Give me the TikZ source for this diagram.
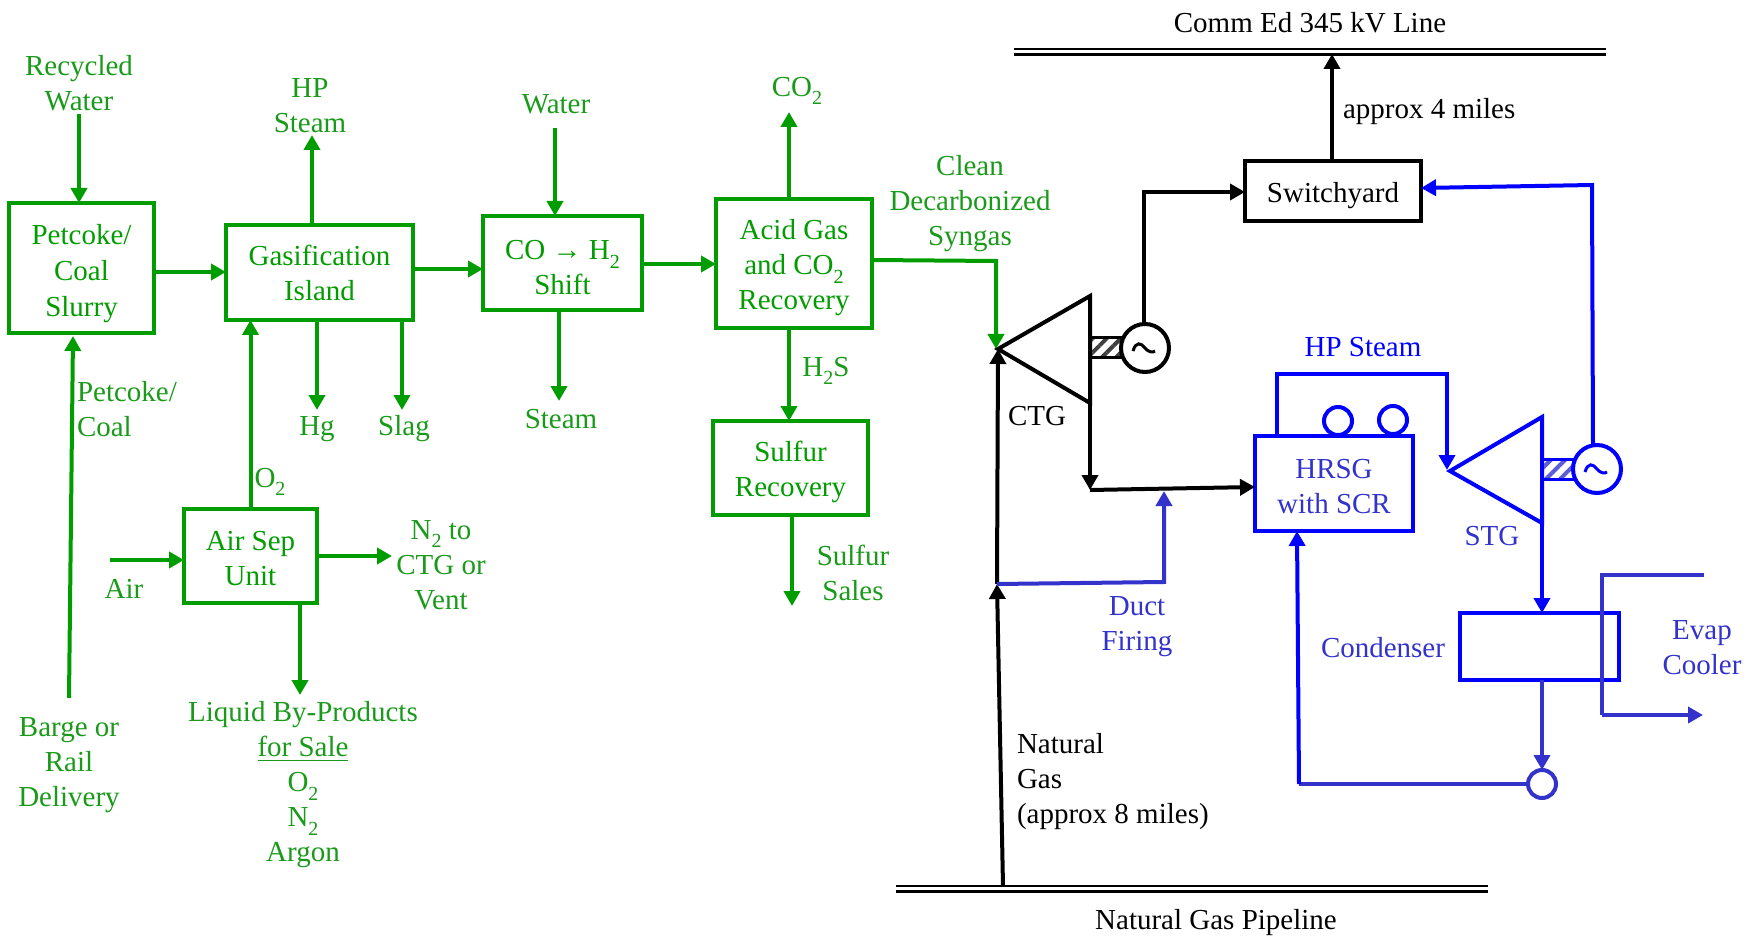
\documentclass[tikz,border=0pt]{standalone}
\usepackage{fontspec}
\setmainfont{Liberation Serif}
\usetikzlibrary{arrows.meta,patterns.meta}
\definecolor{grn}{HTML}{009C00}
\definecolor{grnt}{HTML}{1A9A1A}
\definecolor{blu}{HTML}{0000FF}
\definecolor{bld}{HTML}{3333CC}
\newcommand{\sbs}[1]{\raisebox{-0.3em}{\fontsize{10}{10}\selectfont #1}}
\newcommand{\nudge}[1]{\rule{0pt}{#1}}
\tikzset{
  every node/.style={inner sep=0pt,outer sep=0pt,font=\fontsize{14.5}{17.5}\selectfont,align=center},
  tip/.style={-{Triangle[length=7.5pt,width=8pt]}},
  gline/.style={draw=grn,line width=2pt},
  kline/.style={draw=black,line width=2pt},
  bline/.style={draw=blu,line width=2pt},
  dline/.style={draw=bld,line width=2pt},
  gbox/.style={draw=grn,line width=2pt,rectangle,text=grn},
  kbox/.style={draw=black,line width=2pt,rectangle,text=black},
  bbox/.style={draw=blu,line width=2pt,rectangle,text=bld},
  gtxt/.style={text=grnt},
  ktxt/.style={text=black},
  btxt/.style={text=blu},
  dtxt/.style={text=bld},
  genk/.style={circle,draw=black,line width=2pt,minimum size=24pt,fill=white},
  genb/.style={circle,draw=blu,line width=2pt,minimum size=24pt,fill=white},
  shaftk/.style={rectangle,draw=black,line width=1.5pt,minimum width=16pt,minimum height=10pt,
    pattern={Lines[angle=45,distance=5pt,line width=2pt]},pattern color=black!75},
  shaftb/.style={rectangle,draw=blu,line width=1.5pt,minimum width=16pt,minimum height=10pt,
    pattern={Lines[angle=45,distance=5pt,line width=2pt]},pattern color=bld!80},
  ball/.style={circle,line width=2pt,minimum size=14pt,fill=white}
}
\begin{document}
\begin{tikzpicture}[x=0.5pt,y=-0.5pt]
\useasboundingbox (0,0) rectangle (1757,936);

% process boxes
\node[gbox,minimum width=72.5pt,minimum height=65pt,font=\fontsize{14.5}{18}\selectfont] (pet) at (81.5,268) {\nudge{16pt}Petcoke/\\Coal\\Slurry};
\node[gbox,minimum width=93.5pt,minimum height=47.5pt] (gas) at (319.5,272.5) {Gasification\\Island};
\node[gbox,minimum width=79.5pt,minimum height=47pt] (shift) at (562.5,263) {\nudge{14.3pt}CO → H\sbs{2}\\Shift};
\node[gbox,minimum width=78pt,minimum height=64.5pt] (acid) at (794,263.5) {\nudge{14.4pt}Acid Gas\\and CO\sbs{2}\\Recovery};
\node[gbox,minimum width=77.5pt,minimum height=47pt] (sul) at (790.5,468) {\nudge{14.4pt}Sulfur\\Recovery};
\node[gbox,minimum width=66.5pt,minimum height=47pt] (asu) at (250.5,556) {\nudge{12.1pt}Air Sep\\Unit};
\node[kbox,minimum width=88pt,minimum height=30pt] (sw) at (1333,191) {\nudge{14.4pt}Switchyard};
\node[bbox,minimum width=79pt,minimum height=47.5pt] (hrsg) at (1334,483.5) {\nudge{12.9pt}HRSG\\with SCR};
\node[bbox,minimum width=79.5pt,minimum height=33.5pt] (cond) at (1539.5,646.5) {};

% free ends
\coordinate (rw) at (79,114);
\coordinate (hp) at (312,135);
\coordinate (wat) at (555,128);
\coordinate (co2) at (789,112);
\coordinate (sst) at (559,401);
\coordinate (hg) at (317,410);
\coordinate (slag) at (402,410);
\coordinate (h2s) at (789,421);
\coordinate (barge) at (69,698);
\coordinate (air) at (110,560);
\coordinate (n2) at (392,556);
\coordinate (liq) at (300,695);
\coordinate (ssale) at (792,606);
\coordinate (ctga) at (998,349);
\coordinate (ctgt) at (1090,296);
\coordinate (ctgb) at (1090,403);
\coordinate (stga) at (1450,471);
\coordinate (stgt) at (1542,417);
\coordinate (stgb) at (1542,523);
\coordinate (ctgx) at (1090,490);
\coordinate (ngj) at (997,584);
\coordinate (dj) at (1164,582);
\coordinate (dt) at (1164,491);
\coordinate (commL) at (1014,49);
\coordinate (commR) at (1606,49);
\coordinate (commLow) at (1332,54);
\coordinate (ngL) at (896,886);
\coordinate (ngR) at (1488,886);
\coordinate (ngs) at (1003,886);
\coordinate (ev1) at (1704,575);
\coordinate (ev2) at (1602,575);
\coordinate (ev3) at (1602,715);
\coordinate (ev4) at (1703,715);

% green flows
\draw[gline,tip] (rw) -- (rw |- pet.north);
\draw[gline,tip] (hp |- gas.north) -- (hp);
\draw[gline,tip] (pet.east |- 0,272) -- (gas.west |- 0,272);
\draw[gline,tip] (gas.east |- 0,269) -- (shift.west |- 0,269);
\draw[gline,tip] (shift.east |- 0,264) -- (acid.west |- 0,264);
\draw[gline,tip] (wat) -- (wat |- shift.north);
\draw[gline,tip] (co2 |- acid.north) -- (co2);
\draw[gline,tip] (h2s |- acid.south) -- (h2s);
\draw[gline,tip] (sst |- shift.south) -- (sst);
\draw[gline,tip] (hg |- gas.south) -- (hg);
\draw[gline,tip] (slag |- gas.south) -- (slag);
\draw[gline,tip] (barge) -- (73,336);
\draw[gline,tip] (asu.north) -- (asu.north |- gas.south);
\draw[gline,tip] (air) -- (air -| asu.west);
\draw[gline,tip] (n2 -| asu.east) -- (n2);
\draw[gline,tip] (liq |- asu.south) -- (liq);
\draw[gline,tip] (ssale |- sul.south) -- (ssale);
\draw[gline,tip] (acid.east |- 0,260) -- (996,261) -- (996,349);

% pipelines
\draw[kline,line width=1.3pt] (commL) -- (commR);
\draw[kline,line width=1.3pt] ([yshift=-2.7pt]commL) -- ([yshift=-2.7pt]commR);
\draw[kline,line width=1.3pt] (ngL) -- (ngR);
\draw[kline,line width=1.3pt] ([yshift=-2.7pt]ngL) -- ([yshift=-2.7pt]ngR);

% gas turbine
\draw[kline,line join=miter] (ctga) -- (ctgt) -- (ctgb) -- cycle;
\node[shaftk] (sk) at (1106,348) {};
\node[genk] (gk) at (1145,348) {};
\draw[black,line width=1.5pt] (1133,351) .. controls (1136,341) and (1141,343) .. (1145,348) .. controls (1148,352) and (1153,353) .. (1155,351);
\draw[kline,tip] (1144,324) -- (1144,192) -- (sw.west |- 0,192);
\draw[kline,tip] (sw.north -| commLow) -- (commLow);
\draw[kline,tip] (ctgb) -- (ctgx);
\draw[kline,tip] (ctgx) -- (hrsg.west |- 0,487);
\draw[kline,tip] (ngs) -- (ngj);
\draw[kline,tip] (ngj) -- (ctga);
\draw[dline,tip] (ngj) -- (dj) -- (dt);

% steam turbine
\draw[bline,line join=miter] (stga) -- (stgt) -- (stgb) -- cycle;
\node[shaftb] (sb) at (1558,469) {};
\node[genb] (gb) at (1597,469) {};
\draw[blu,line width=1.5pt] (1585,472) .. controls (1588,462) and (1593,464) .. (1597,469) .. controls (1600,473) and (1605,474) .. (1607,472);
\draw[bline,tip] (1593,445) -- (1592,185) -- (sw.east |- 0,188);
\draw[bline,tip] (1277,436) -- (1277,374) -- (1447,374) -- (1447,470);
\node[ball,draw=blu] (b1) at (1338,421) {};
\node[ball,draw=blu] (b2) at (1393,420) {};
\draw[bline] (hrsg.north west) -- (hrsg.north east);
\draw[bline,tip] (stgb) -- (stgb |- cond.north);
\node[ball,draw=bld] (pump) at (1542,784) {};
\draw[dline,tip] (pump.north |- cond.south) -- (pump.north);
\draw[dline] (pump.west) -- (1299,784);
\draw[bline,tip] (1299,784) -- (1297,531);
\draw[dline] (ev1) -- (ev2) -- (ev3);
\draw[dline,tip] (ev3) -- (ev4);

% labels
\node[gtxt] (t1) at (79,83) {Recycled\\Water};
\node[gtxt] (t2) at (310,106) {HP\\Steam};
\node[gtxt] (t3) at (556,104) {Water};
\node[gtxt] (t4) at (797,91) {CO\sbs{2}};
\node[gtxt] (t5) at (970,204) {Clean\\Decarbonized\\Syngas};
\node[gtxt] (t6) at (317,429) {Hg};
\node[gtxt] (t7) at (404,429) {Slag};
\node[gtxt] (t8) at (561,419) {Steam};
\node[gtxt] (t9) at (826,371) {H\sbs{2}S};
\node[gtxt,align=left,anchor=west] (t10) at (77,409) {Petcoke/\\Coal};
\node[gtxt] (t11) at (69,765) {Barge or\\Rail\\Delivery};
\node[gtxt] (t12) at (270,482) {O\sbs{2}};
\node[gtxt] (t13) at (124,589) {Air};
\node[gtxt] (t14) at (441,565) {N\sbs{2} to\\CTG or\\Vent};
\node[gtxt] (t15) at (303,785) {Liquid By-Products\\\underline{for Sale}\\O\sbs{2}\\N\sbs{2}\\Argon};
\node[gtxt] (t16) at (853,573) {Sulfur\\Sales};
\node[ktxt] (t17) at (1310,23) {Comm Ed 345 kV Line};
\node[ktxt,anchor=west] (t18) at (1343,112) {approx 4 miles};
\node[ktxt] (t19) at (1037,416) {CTG};
\node[btxt] (t20) at (1363,347) {HP Steam};
\node[dtxt] (t21) at (1492,536) {STG};
\node[dtxt] (t22) at (1137,627) {Duct\\Firing};
\node[dtxt] (t23) at (1383,648) {Condenser};
\node[dtxt] (t24) at (1702,648) {Evap\\Cooler};
\node[ktxt,align=left,anchor=west] (t25) at (1017,782) {Natural\\Gas\\(approx 8 miles)};
\node[ktxt] (t26) at (1216,923) {Natural Gas Pipeline};
\end{tikzpicture}
\end{document}
